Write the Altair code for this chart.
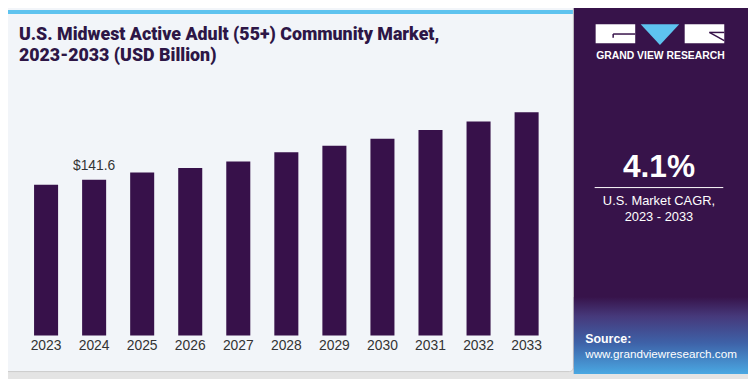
import altair as alt
import pandas as pd

# ---- data ----
years = ["2023", "2024", "2025", "2026", "2027", "2028", "2029", "2030", "2031", "2032", "2033"]
values = [137.1, 141.6, 148.3, 152.4, 158.4, 166.8, 172.6, 179.1, 187.0, 194.7, 203.2]
label_year = "2024"
label_text = "$141.6"
title_lines = ["U.S. Midwest Active Adult (55+) Community Market,", "2023-2033 (USD Billion)"]
cagr_value = "4.1%"
cagr_lines = ["U.S. Market CAGR,", "2023 - 2033"]
brand = "GRAND VIEW RESEARCH"
source_label = "Source:"
source_url = "www.grandviewresearch.com"

W, H = 748, 371
BAR = "#37114a"
PANEL = "#37134a"
TITLE = "#2d1646"

df = pd.DataFrame({"year": years, "value": values})
one = pd.DataFrame({"k": [0]})
base = alt.Chart(one)

xscale = alt.Scale(domain=years, range=[14.2, 548.5], paddingInner=0.5, paddingOuter=0.25)
yscale = alt.Scale(domain=[0, 250], range=[329, 51.3], nice=False, zero=True)


def rect(x, x2, y, y2, **kw):
    return base.mark_rect(**kw).encode(
        x=alt.value(x), x2=alt.value(x2), y=alt.value(y), y2=alt.value(y2)
    )


def rule(x, x2, y, y2, color, w):
    return base.mark_rule(color=color, strokeWidth=w).encode(
        x=alt.value(x), x2=alt.value(x2), y=alt.value(y), y2=alt.value(y2)
    )


def text(t, x, y, size, color, weight="normal", align="left", font="Liberation Sans"):
    return base.mark_text(
        text=t, fontSize=size, color=color, fontWeight=weight, align=align,
        baseline="alphabetic", font=font
    ).encode(x=alt.value(x), y=alt.value(y))


left_panel = rect(-10, 571.5, -10, 365.5, fill="#f2f5f9", stroke="#cbcbcb", strokeWidth=1, cornerRadius=4)
stripe = rect(-10, 571, 0, 4, fill="#5ec3ef")
right_panel = rect(572, 748, -10, 368, fill=PANEL)
grad = rect(572, 748, 290, 368, fill=alt.LinearGradient(
    gradient="linear", x1=0, x2=0, y1=0, y2=1,
    stops=[
        alt.GradientStop(color=PANEL, offset=0),
        alt.GradientStop(color="#46397b", offset=0.25),
        alt.GradientStop(color="#3e62a8", offset=0.6),
        alt.GradientStop(color="#4aa8e2", offset=1),
    ],
))

# logo
g_block = rect(594, 634, 14.3, 33.7, fill="white")
g_notch_h = rule(611.7, 634, 24.3, 24.3, PANEL, 1.5)
g_notch_v = rule(611.7, 611.7, 24.3, 28, PANEL, 1.5)
tri = base.mark_point(
    shape="M-1,-0.538L1,-0.538L0,0.538Z", filled=True, fill="#5ec3ef", opacity=1, size=1521, strokeWidth=0
).encode(x=alt.value(659), y=alt.value(24.8))
r_block = rect(684, 724, 14.3, 33.7, fill="white")
r_notch_h = rule(709, 724, 22.7, 22.7, PANEL, 1.5)
r_notch_d = rule(709, 724, 22.7, 31, PANEL, 1.5)
brand_t = text(brand, 659.5, 49.5, 10.5, "white", "bold", "center")

cagr_t = text(cagr_value, 658, 169, 32, "white", "bold", "center")
cagr_line = rule(593, 723, 179.5, 179.5, "white", 1)
cagr_l1 = text(cagr_lines[0], 658, 197, 13, "white", "normal", "center")
cagr_l2 = text(cagr_lines[1], 658, 213.5, 13, "white", "normal", "center")
src1 = text(source_label, 583.5, 337, 12.5, "white", "bold")
src2 = text(source_url, 583.5, 352, 11.8, "white")

title1 = text(title_lines[0], 11, 30.3, 18, TITLE, 900, font="Roboto")
title2 = text(title_lines[1], 11, 52, 18, TITLE, 900, font="Roboto")

bars = alt.Chart(df).mark_bar(color=BAR).encode(
    x=alt.X("year:N", scale=xscale, axis=None),
    y=alt.Y("value:Q", scale=yscale, axis=None),
)
year_labels = alt.Chart(df).mark_text(
    fontSize=14, color="#333333", baseline="alphabetic", font="Liberation Sans"
).encode(
    x=alt.X("year:N", scale=xscale, axis=None),
    y=alt.value(343.5),
    text="year:N",
)
value_label = alt.Chart(df).transform_filter(
    alt.datum.year == label_year
).mark_text(
    fontSize=14, color="#333333", baseline="alphabetic", dy=-10, font="Liberation Sans"
).encode(
    x=alt.X("year:N", scale=xscale, axis=None),
    y=alt.Y("value:Q", scale=yscale, axis=None),
    text=alt.value(label_text),
)

chart = alt.layer(
    left_panel, stripe, right_panel, grad,
    g_block, g_notch_h, g_notch_v, tri, r_block, r_notch_h, r_notch_d, brand_t,
    cagr_t, cagr_line, cagr_l1, cagr_l2, src1, src2,
    title1, title2,
    bars, year_labels, value_label,
).properties(
    width=W, height=H, autosize=alt.AutoSizeParams(type="none"), padding=0,
    background="#e4e4e4",
).configure_view(stroke=None)

chart.save("out.html", embed_options={"renderer": "svg", "actions": False})
